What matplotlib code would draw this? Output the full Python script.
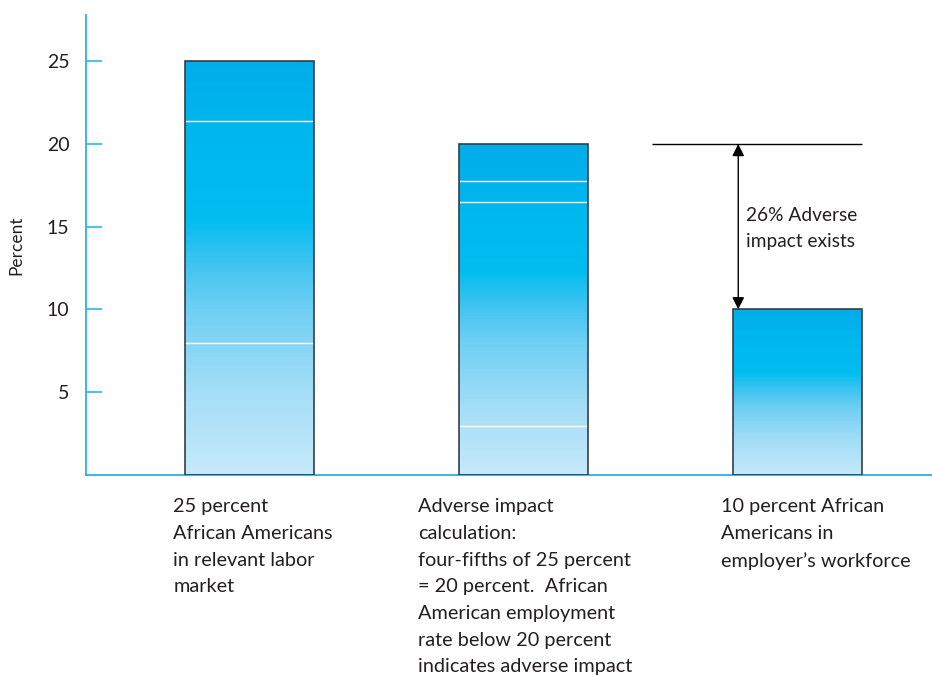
import matplotlib.pyplot as plt
import numpy as np
from matplotlib.colors import LinearSegmentedColormap

labels = [
    "25 percent\nAfrican Americans\nin relevant labor\nmarket",
    "Adverse impact\ncalculation:\nfour-fifths of 25 percent\n= 20 percent.  African\nAmerican employment\nrate below 20 percent\nindicates adverse impact",
    "10 percent African\nAmericans in\nemployer\u2019s workforce",
]
values = [25, 20, 10]
# thin white seams in the shaded bars
seams = [[21.4, 7.95], [17.75, 16.5, 2.95], []]
threshold = 20
gap_text = "26% Adverse\nimpact exists"

plt.rcParams['font.family'] = ['Lato', 'DejaVu Sans']

blue = LinearSegmentedColormap.from_list(
    "shade", [(0.0, "#c6e9fa"), (0.2, "#a5def7"), (0.4, "#6fcff4"),
              (0.5, "#45c5f1"), (0.62, "#00bdf0"), (0.8, "#00b8ee"),
              (1.0, "#00adea")])

fig = plt.figure(figsize=(9.32, 6.75), dpi=100)
ax = fig.add_axes([0.0923, 0.2967, 0.9077, 0.6811])

x = np.arange(len(values))
width = 0.47
grad = np.linspace(0, 1, 256).reshape(-1, 1)
for xi, v, s in zip(x, values, seams):
    ax.imshow(grad, cmap=blue, origin='lower', aspect='auto',
              extent=(xi - width / 2, xi + width / 2, 0, v), zorder=1)
    for y in s:
        ax.hlines(y, xi - width / 2, xi + width / 2, color='white', lw=1, zorder=2)
ax.bar(x, values, width, facecolor='none', edgecolor='#333f48', lw=1.2, zorder=3)

# four-fifths line and the gap down to the workforce bar
ax.hlines(threshold, 1.469, 2 + width / 2, color='black', lw=1, zorder=3)
ax.annotate("", xy=(1.783, values[2]), xytext=(1.783, threshold),
            arrowprops=dict(arrowstyle='<|-|>', color='black', lw=1,
                            mutation_scale=18, shrinkA=0, shrinkB=0))
ax.text(1.812, 14.9, gap_text, fontsize=13.8, va='center', ha='left',
        linespacing=1.62, color='#231f20')

label_x = [-0.279, 0.615, 1.72]
for lx, lab in zip(label_x, labels):
    ax.text(lx, -1.42, lab, fontsize=14.3, va='top', ha='left', linespacing=1.69,
            color='#231f20', clip_on=False)

ax.set_xlim(-0.597, 2.49)
ax.set_ylim(0, 27.8)
ax.set_xticks([])
ax.set_yticks([5, 10, 15, 20, 25])
ax.tick_params(axis='y', direction='in', length=11.5, width=1.5, color='#4fc3f0',
               pad=12, labelsize=14, labelcolor='#231f20')
for side in ['top', 'right']:
    ax.spines[side].set_visible(False)
ax.spines['left'].set_color('#29b0e8')
ax.spines['bottom'].set_color('#29b0e8')
ax.spines['left'].set_linewidth(1.3)
ax.spines['bottom'].set_linewidth(1.3)
ax.set_ylabel("Percent", fontsize=12.5, color='#231f20', labelpad=16)

fig.savefig("out.png", dpi=100)
